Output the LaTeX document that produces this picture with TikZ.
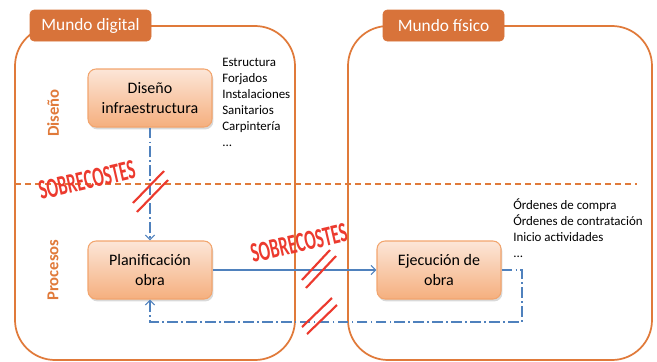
\documentclass[tikz,border=0pt]{standalone}
\usepackage{fontspec}
\setmainfont{Carlito}
\usetikzlibrary{arrows.meta,shadows}
\definecolor{orbord}{HTML}{E07A3A}
\definecolor{ortab}{HTML}{D8733A}
\definecolor{boxtop}{HTML}{FCE6D8}
\definecolor{boxbot}{HTML}{F5AF7E}
\definecolor{boxline}{HTML}{F2A56E}
\definecolor{bl}{HTML}{4F81BD}
\definecolor{rd}{HTML}{EC3A2E}
\tikzset{
  world/.style={draw=orbord, line width=1.3pt, rounded corners=30pt},
  tab/.style={fill=ortab, draw=ortab, rounded corners=3pt, text=white, font=\fontsize{13}{15}\selectfont, minimum width=90.75pt, minimum height=23.25pt, inner sep=0pt},
  procbox/.style={draw=boxline, line width=0.8pt, rounded corners=6pt, top color=boxtop, bottom color=boxbot, minimum width=93pt, minimum height=43.5pt, align=center, font=\fontsize{12}{15}\selectfont, inner sep=1pt, drop shadow={opacity=0.3, shadow xshift=1pt, shadow yshift=-1.8pt}},
  sidelabel/.style={rotate=90, text=orbord, font=\bfseries\fontsize{12.5}{14}\selectfont},
  listtext/.style={anchor=north west, align=left, font=\fontsize{9.7}{12}\selectfont, inner sep=0pt},
  flow/.style={draw=bl, line width=0.9pt},
  dd/.style={dash pattern=on 8pt off 2.5pt on 1.2pt off 2.5pt},
  tip/.style={-{Straight Barb[length=3.5pt,width=7pt]}},
  costs/.style={text=rd, font=\bfseries\fontsize{21}{23}\selectfont, rotate=13, inner sep=0pt},
  strike/.style={draw=rd, line width=1.6pt},
}
\begin{document}
\begin{tikzpicture}[x=0.75pt,y=-0.75pt]
\useasboundingbox (0,0) rectangle (657,361);
% worlds
\draw[world] (15,26) rectangle (295,360);
\draw[world] (348,26) rectangle (652,360);
% separator
\draw[orbord, line width=0.8pt, dash pattern=on 4.5pt off 3pt] (15,184) -- (637,184);
% tabs
\node[tab] (tdig) at (90.5,25.5) {Mundo digital};
\node[tab] (tfis) at (443.5,25.5) {Mundo físico};
% side labels
\node[sidelabel] (ldis) at (53,113) {Diseño};
\node[sidelabel] (lpro) at (53,270) {Procesos};
% boxes
\node[procbox] (dis) at (150,98) {Diseño\\infraestructura};
\node[procbox] (plan) at (150,270) {Planificación\\obra};
\node[procbox] (ejec) at (439,270) {Ejecución de\\obra};
% lists
\node[listtext] (l1) at (222,57.5) {Estructura\\Forjados\\Instalaciones\\Sanitarios\\Carpintería\\...};
\node[listtext] (l2) at (513,198) {Órdenes de compra\\Órdenes de contratación\\Inicio actividades\\...};
% connectors
\coordinate (c1) at (522,322);
\draw[flow, dd, tip] (dis.south) -- (plan.north);
\draw[flow, tip] (plan.east) -- (ejec.west);
\draw[flow, dd, tip] (ejec.east) -| (c1) -| (plan.south);
% sobrecostes
\node[costs, xscale=0.6] (s1) at (87,180) {SOBRECOSTES};
\node[costs, xscale=0.6] (s2) at (299,243) {SOBRECOSTES};
% strikes
\draw[strike] (133,203) -- (164,171);
\draw[strike] (137,212) -- (168,180);
\draw[strike] (302,280) -- (330,250);
\draw[strike] (306,288) -- (336,256);
\draw[strike] (302,327) -- (332,298);
\draw[strike] (307,334) -- (337,305);
\end{tikzpicture}
\end{document}
